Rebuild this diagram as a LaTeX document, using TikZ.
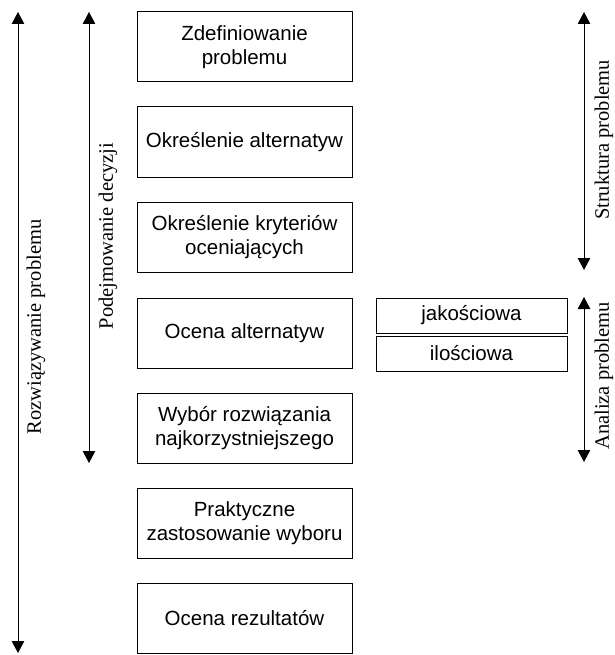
\documentclass[tikz,border=0pt]{standalone}
\usepackage{fontspec}
\setmainfont{Liberation Sans}
\newfontfamily\tnr{Liberation Serif}
\usetikzlibrary{arrows.meta}
\begin{document}
\begin{tikzpicture}[x=1pt,y=-1pt,
  stepbox/.style={draw,line width=1pt,minimum width=215pt,minimum height=70pt,align=center,inner sep=0pt,font=\fontsize{20.5}{23.5}\selectfont},
  smallbox/.style={draw,line width=1pt,minimum width=191pt,minimum height=35pt,inner sep=0pt,font=\fontsize{20.5}{23.5}\selectfont},
  sidelabel/.style={rotate=90,inner sep=0pt,font=\tnr\fontsize{20.5}{23.5}\selectfont},
  twoarrow/.style={line width=1pt,{Triangle[length=12pt,width=12.5pt]}-{Triangle[length=12pt,width=12.5pt]}}]
\useasboundingbox (0,0) rectangle (614,655);
\node[stepbox] (b1) at (244.5,47) {Zdefiniowanie\\problemu};
\node[stepbox] (b2) at (244.5,142) {Określenie alternatyw};
\node[stepbox] (b3) at (244.5,237) {Określenie kryteriów\\oceniających};
\node[stepbox] (b4) at (244.5,333) {Ocena alternatyw};
\node[stepbox] (b5) at (244.5,428) {Wybór rozwiązania\\najkorzystniejszego};
\node[stepbox] (b6) at (244.5,523) {Praktyczne\\zastosowanie wyboru};
\node[stepbox] (b7) at (244.5,618) {Ocena rezultatów};
\node[smallbox] (q1) at (471.5,315.5) {jakościowa};
\node[smallbox] (q2) at (471.5,353.5) {ilościowa};
\coordinate (r1) at (18,12);
\coordinate (r2) at (18,653);
\coordinate (d1) at (89,12);
\coordinate (d2) at (89,463);
\coordinate (s1) at (584,12);
\coordinate (s2) at (584,270);
\coordinate (a1) at (584,297);
\coordinate (a2) at (584,462);
\draw[twoarrow] (r1) -- (r2);
\draw[twoarrow] (d1) -- (d2);
\draw[twoarrow] (s1) -- (s2);
\draw[twoarrow] (a1) -- (a2);
\node[sidelabel] (lr) at (36,327) {Rozwiązywanie problemu};
\node[sidelabel] (ld) at (108,236) {Podejmowanie decyzji};
\node[sidelabel] (ls) at (604,140) {Struktura problemu};
\node[sidelabel] (la) at (604,376) {Analiza problemu};
\end{tikzpicture}
\end{document}
